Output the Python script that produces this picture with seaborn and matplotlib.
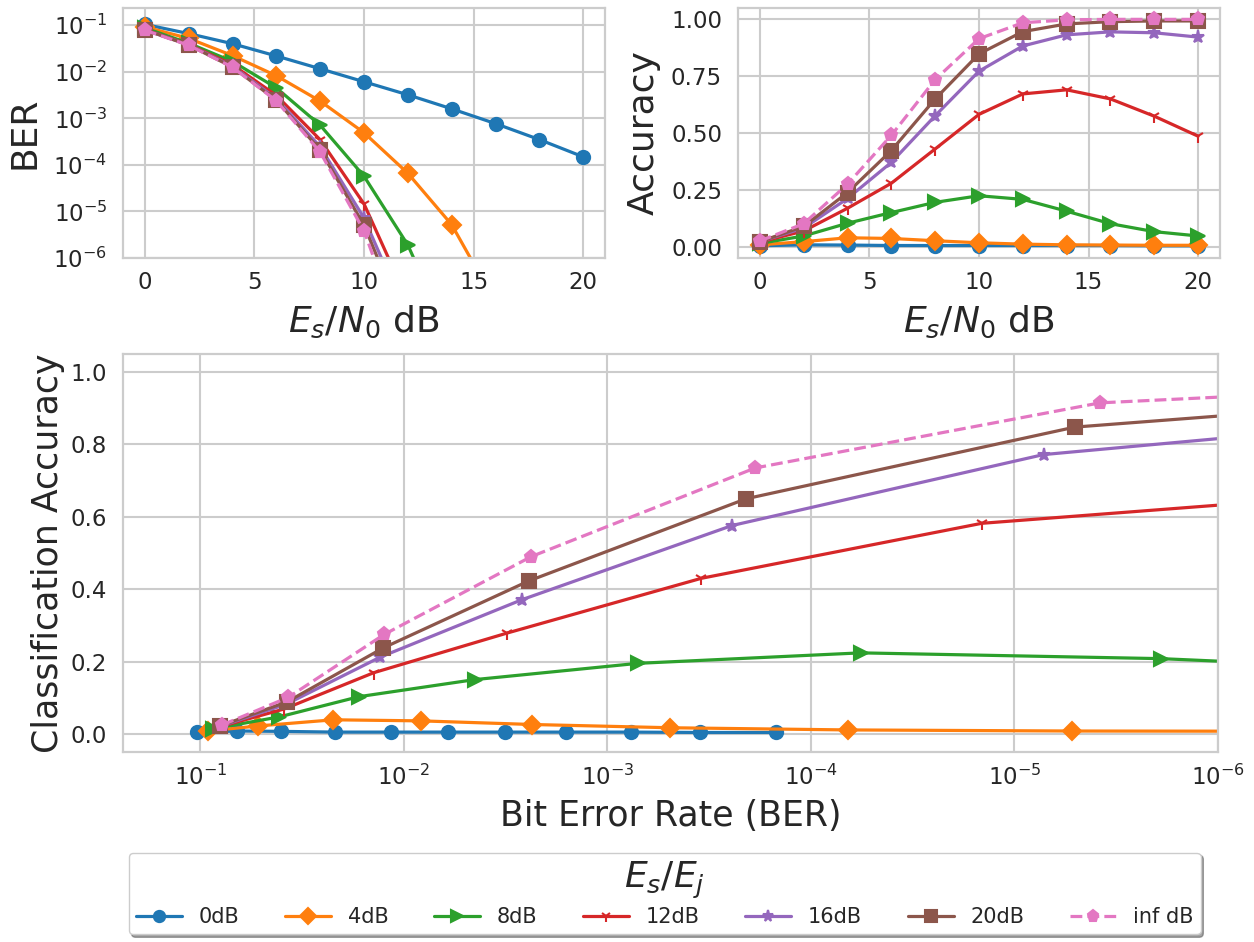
import matplotlib
matplotlib.use("Agg")
import matplotlib.pyplot as plt
import seaborn as sns

# ---------------- data ----------------
esn0_db = [0, 2, 4, 6, 8, 10, 12, 14, 16, 18, 20]
jam_labels = ["0dB", "4dB", "8dB", "12dB", "16dB", "20dB", "inf dB"]

ber_0db = [0.104, 0.066, 0.040, 0.0218, 0.0116, 0.0061, 0.0032, 0.0016, 7.7e-4, 3.5e-4, 1.49e-4]
ber_4db = [0.092, 0.052, 0.0222, 0.0082, 0.00234, 4.9e-4, 6.6e-5, 5.2e-6, 1.1e-7, 1e-9, 1e-11]
ber_8db = [0.087, 0.041, 0.0166, 0.0045, 7.1e-4, 5.7e-5, 1.9e-6, 1.5e-8, 1e-10, 1e-12, 1e-14]
ber_12db = [0.080, 0.0387, 0.0141, 0.0031, 3.46e-4, 1.45e-5, 1.2e-7, 1e-9, 1e-11, 1e-13, 1e-15]
ber_16db = [0.079, 0.0379, 0.0131, 0.00263, 2.44e-4, 7.2e-6, 5e-8, 1e-10, 1e-12, 1e-14, 1e-16]
ber_20db = [0.080, 0.0374, 0.0126, 0.00243, 2.08e-4, 5.05e-6, 2.7e-8, 1e-10, 1e-12, 1e-14, 1e-16]
ber_infdb = [0.078, 0.037, 0.0125, 0.00237, 1.88e-4, 3.8e-6, 1e-8, 1e-10, 1e-12, 1e-14, 1e-16]

acc_0db = [0.004, 0.008, 0.007, 0.005, 0.005, 0.005, 0.005, 0.005, 0.005, 0.004, 0.004]
acc_4db = [0.008, 0.022, 0.039, 0.036, 0.026, 0.017, 0.011, 0.008, 0.007, 0.006, 0.006]
acc_8db = [0.014, 0.047, 0.103, 0.150, 0.195, 0.224, 0.208, 0.156, 0.101, 0.066, 0.047]
acc_12db = [0.020, 0.069, 0.169, 0.279, 0.430, 0.582, 0.672, 0.690, 0.650, 0.574, 0.486]
acc_16db = [0.022, 0.082, 0.212, 0.371, 0.576, 0.772, 0.883, 0.932, 0.945, 0.941, 0.922]
acc_20db = [0.022, 0.089, 0.238, 0.423, 0.650, 0.848, 0.946, 0.980, 0.990, 0.993, 0.993]
acc_infdb = [0.025, 0.101, 0.275, 0.490, 0.735, 0.915, 0.985, 0.998, 1.000, 1.000, 1.000]

ber_series = [ber_0db, ber_4db, ber_8db, ber_12db, ber_16db, ber_20db, ber_infdb]
acc_series = [acc_0db, acc_4db, acc_8db, acc_12db, acc_16db, acc_20db, acc_infdb]

# ---------------- style ----------------
sns.set_style("whitegrid")
plt.rcParams["font.family"] = ["DejaVu Sans"]
plt.rcParams["text.color"] = ".15"
plt.rcParams["axes.labelcolor"] = ".15"
plt.rcParams["grid.linewidth"] = 1.5
plt.rcParams["axes.linewidth"] = 1.6

colors = sns.color_palette("tab10")[:7]
markers = ["o", "D", ">", "1", "*", "s", "p"]
linestyles = ["-", "-", "-", "-", "-", "-", "--"]
LW = 2.3
MS = 9.5
TICK_FS = 16.5
LABEL_FS = 26

fig = plt.figure(figsize=(12.54, 9.42), dpi=100)
ax1 = fig.add_axes([0.0981, 0.7261, 0.3844, 0.2654])
ax2 = fig.add_axes([0.5885, 0.7261, 0.3844, 0.2654])
ax3 = fig.add_axes([0.0981, 0.2017, 0.8732, 0.4225])

for i, lab in enumerate(jam_labels):
    kw = dict(color=colors[i], marker=markers[i], linestyle=linestyles[i],
              linewidth=LW, markersize=MS, markeredgecolor=colors[i],
              markeredgewidth=1.5, errorbar=None)
    sns.lineplot(x=esn0_db, y=ber_series[i], ax=ax1, legend=False, **kw)
    sns.lineplot(x=esn0_db, y=acc_series[i], ax=ax2, legend=False, **kw)
    sns.lineplot(x=ber_series[i], y=acc_series[i], ax=ax3, sort=False,
                 label=lab, **kw)

# top-left: BER vs Es/N0
ax1.set_yscale("log")
ax1.set_ylim(1e-6, 0.234)
ax1.set_xlim(-1, 21)
ax1.set_xticks([0, 5, 10, 15, 20])
ax1.set_yticks([1e-1, 1e-2, 1e-3, 1e-4, 1e-5, 1e-6])
ax1.set_xlabel("$E_s/N_0$ dB", fontsize=LABEL_FS, labelpad=7)
ax1.set_ylabel("BER", fontsize=LABEL_FS, labelpad=8)

# top-right: accuracy vs Es/N0
ax2.set_xlim(-1, 21)
ax2.set_ylim(-0.05, 1.05)
ax2.set_xticks([0, 5, 10, 15, 20])
ax2.set_yticks([0.0, 0.25, 0.5, 0.75, 1.0])
ax2.set_yticklabels(["0.00", "0.25", "0.50", "0.75", "1.00"])
ax2.set_xlabel("$E_s/N_0$ dB", fontsize=LABEL_FS, labelpad=7)
ax2.set_ylabel("Accuracy", fontsize=LABEL_FS, labelpad=7)

# bottom: accuracy vs BER
ax3.set_xscale("log")
ax3.set_xlim(0.24, 1e-6)
ax3.set_ylim(-0.05, 1.05)
ax3.set_xticks([1e-1, 1e-2, 1e-3, 1e-4, 1e-5, 1e-6])
ax3.set_yticks([0.0, 0.2, 0.4, 0.6, 0.8, 1.0])
ax3.set_xlabel("Bit Error Rate (BER)", fontsize=25, labelpad=6)
ax3.set_ylabel("Classification Accuracy", fontsize=25, labelpad=4)

for ax in (ax1, ax2, ax3):
    ax.tick_params(axis="both", labelsize=TICK_FS, colors=".15")
    ax.tick_params(axis="x", pad=6)
    ax.tick_params(axis="y", pad=8)
    ax.minorticks_off()

handles, labels = ax3.get_legend_handles_labels()
ax3.get_legend().remove()
fig.legend(handles, labels, loc="upper center", bbox_to_anchor=(0.530, 0.106),
           ncol=7, title="$E_s/E_j$", title_fontsize=26, fontsize=15,
           shadow=True, frameon=True, columnspacing=2.2, handlelength=2.2,
           handletextpad=0.8, borderpad=0.35, labelspacing=0.3,
           markerscale=0.85)

fig.savefig("out.png", dpi=100)
